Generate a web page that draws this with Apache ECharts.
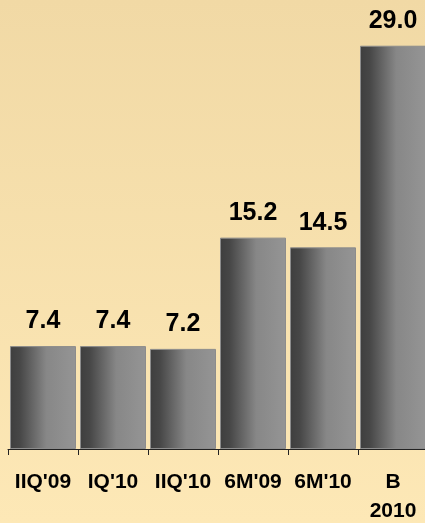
<!DOCTYPE html>
<html>
<head>
<meta charset="utf-8">
<script src="https://cdn.jsdelivr.net/npm/echarts@6/dist/echarts.min.js"></script>
<style>
html,body{margin:0;padding:0;width:425px;height:523px;overflow:hidden;}
#c{width:425px;height:523px;}
</style>
</head>
<body>
<div id="c"></div>
<script>
const categories = ["IIQ'09", "IQ'10", "IIQ'10", "6M'09", "6M'10", "B\n2010"];
const values = [7.4, 7.4, 7.2, 15.2, 14.5, 29.0];

const chart = echarts.init(document.getElementById('c'));
const barGrad = new echarts.graphic.LinearGradient(0, 0, 1, 0, [
  {offset: 0, color: '#3e3e3e'},
  {offset: 0.15, color: '#474747'},
  {offset: 0.55, color: '#878787'},
  {offset: 1, color: '#959595'}
]);
chart.setOption({
  backgroundColor: new echarts.graphic.LinearGradient(0, 0, 0, 1, [
    {offset: 0, color: '#f1d9a5'},
    {offset: 1, color: '#fde8b6'}
  ]),
  animation: false,
  grid: {left: 8, top: 4, width: 420, height: 445, containLabel: false, outerBoundsMode: 'none'},
  xAxis: {
    type: 'category',
    data: categories,
    axisLine: {lineStyle: {color: '#222', width: 1}},
    axisTick: {show: true, length: 6, lineStyle: {color: '#222'}},
    axisLabel: {
      color: '#000', fontWeight: 'bold', fontSize: 21,
      fontFamily: 'Liberation Sans, Arial, sans-serif',
      lineHeight: 29, margin: 19, interval: 0
    }
  },
  yAxis: {type: 'value', min: 0, max: 32, show: false, splitLine: {show: false}},
  series: [{
    type: 'bar',
    data: values,
    barWidth: 66,
    itemStyle: {color: barGrad, borderColor: '#8c8c8c', borderWidth: 1},
    label: {
      show: true, position: 'top', distance: 12,
      formatter: p => p.value.toFixed(1),
      color: '#000', fontWeight: 'bold', fontSize: 25,
      fontFamily: 'Liberation Sans, Arial, sans-serif'
    }
  }]
});
</script>
</body>
</html>
